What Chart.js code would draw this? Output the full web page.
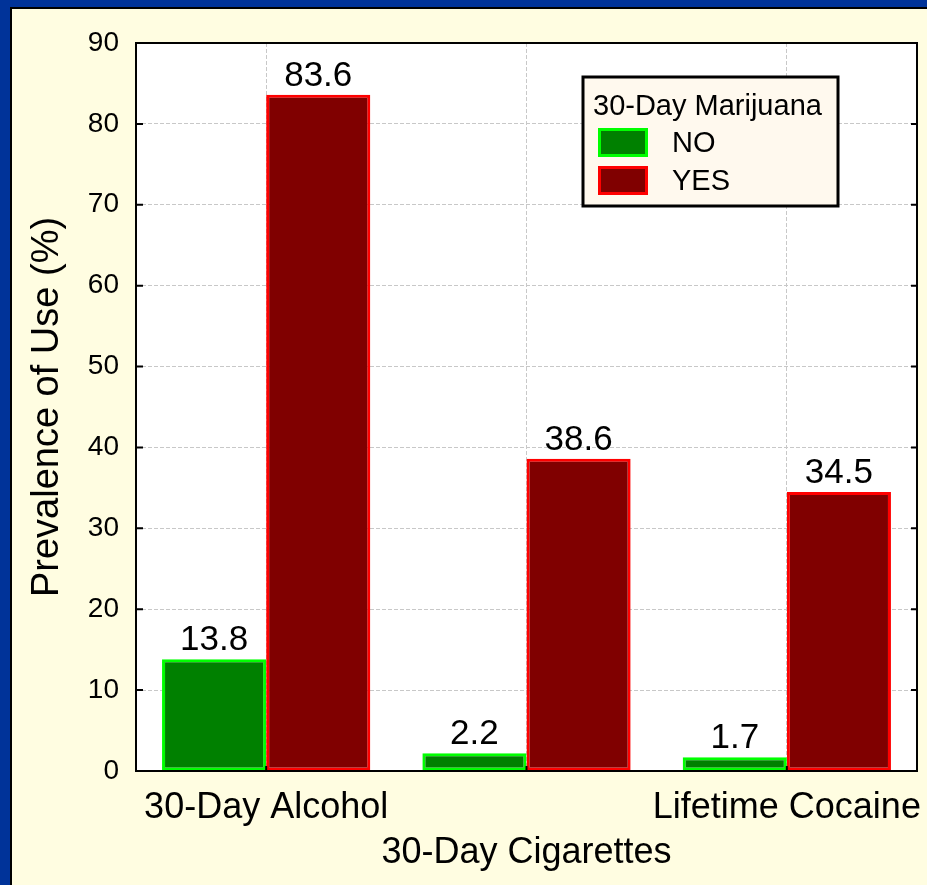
<!DOCTYPE html>
<html>
<head>
<meta charset="utf-8">
<title>Prevalence of Use</title>
<script src="https://cdn.jsdelivr.net/npm/chart.js@4.4.1/dist/chart.umd.min.js"></script>
<style>
    html, body { margin: 0; padding: 0; overflow: hidden; background: #FFFDE1; }
    .blue { position: absolute; background: #003399; }
    #blueLeft { left: 0; top: 0; width: 10px; height: 100%; }
    #blueTop { left: 0; top: 0; width: 100%; height: 7px; }
    #frame {
        position: absolute; left: 10px; top: 7px; right: 0; bottom: 0;
        border-left: 2px solid #000; border-top: 2px solid #000;
        background: #FFFDE1;
    }
    #chart { position: absolute; left: 0; top: 0; }
</style>
</head>
<body>
<div class="blue" id="blueLeft"></div>
<div class="blue" id="blueTop"></div>
<div id="frame">
    <canvas id="chart" width="915" height="876"></canvas>
</div>
<script>
// 1. Dữ liệu
const categories = ['30-Day Alcohol', '30-Day Cigarettes', 'Lifetime Cocaine'];
const seriesNames = ['NO', 'YES'];
const valuesNo = [13.8, 2.2, 1.7];
const valuesYes = [83.6, 38.6, 34.5];
const yTicks = [0, 10, 20, 30, 40, 50, 60, 70, 80, 90];
const legendTitle = '30-Day Marijuana';
const yTitle = 'Prevalence of Use (%)';

const FONT = "'Liberation Sans', Arial, sans-serif";

// 2. Plugin: nền trắng vùng vẽ
const plotBg = {
    id: 'plotBg',
    beforeDraw(chart) {
        const { ctx, chartArea: a } = chart;
        ctx.save();
        ctx.fillStyle = '#ffffff';
        ctx.fillRect(a.left, a.top, a.width, a.height);
        ctx.restore();
    }
};

// 3. Plugin: số trên đầu cột, khung, vạch chia hướng vào trong, chú thích
const extras = {
    id: 'extras',
    afterDatasetsDraw(chart) {
        const ctx = chart.ctx;
        ctx.save();
        ctx.font = '35px ' + FONT;
        ctx.fillStyle = '#000';
        ctx.textAlign = 'center';
        ctx.textBaseline = 'alphabetic';
        chart.data.datasets.forEach((ds, i) => {
            chart.getDatasetMeta(i).data.forEach((bar, j) => {
                ctx.fillText(ds.data[j].toFixed(1), bar.x, bar.y - 9);
            });
        });
        ctx.restore();
    },
    afterDraw(chart) {
        const { ctx, chartArea: a, scales } = chart;
        ctx.save();

        // khung vùng vẽ
        ctx.strokeStyle = '#000';
        ctx.lineWidth = 2;
        ctx.strokeRect(a.left, a.top, a.width, a.height);

        // vạch chia trục y (trái + phải)
        yTicks.forEach(v => {
            const y = scales.y.getPixelForValue(v);
            ctx.beginPath();
            ctx.moveTo(a.left, y); ctx.lineTo(a.left + 7, y);
            ctx.moveTo(a.right, y); ctx.lineTo(a.right - 6, y);
            ctx.stroke();
        });
        // vạch chia trục x
        categories.forEach((c, i) => {
            const x = scales.x.getPixelForTick(i);
            ctx.beginPath();
            ctx.moveTo(x, a.bottom); ctx.lineTo(x, a.bottom - 5);
            ctx.stroke();
        });

        // chú thích
        const w = 255, h = 129;
        const lx = a.right - 79 - w, ly = a.top + 34;
        ctx.fillStyle = '#FFF9EE';
        ctx.fillRect(lx, ly, w, h);
        ctx.lineWidth = 3;
        ctx.strokeStyle = '#000';
        ctx.strokeRect(lx, ly, w, h);

        ctx.fillStyle = '#000';
        ctx.font = '29px ' + FONT;
        ctx.textAlign = 'left';
        ctx.textBaseline = 'alphabetic';
        ctx.fillText(legendTitle, lx + 10, ly + 38);

        chart.data.datasets.forEach((ds, i) => {
            const by = ly + 51 + i * 38;
            ctx.fillStyle = ds.backgroundColor;
            ctx.fillRect(lx + 15, by, 50, 29);
            ctx.lineWidth = 3;
            ctx.strokeStyle = ds.borderColor;
            ctx.strokeRect(lx + 16.5, by + 1.5, 47, 26);
            ctx.fillStyle = '#000';
            ctx.fillText(ds.label, lx + 89, by + 24);
        });
        ctx.restore();
    }
};

// 4. Vẽ biểu đồ
const gridStyle = { color: '#C8C8C8', lineWidth: 1, drawTicks: false };

new Chart(document.getElementById('chart'), {
    type: 'bar',
    data: {
        labels: categories,
        datasets: [
            {
                label: seriesNames[0],
                data: valuesNo,
                backgroundColor: '#008000',
                borderColor: '#00FF00',
                borderWidth: 3,
                borderSkipped: false
            },
            {
                label: seriesNames[1],
                data: valuesYes,
                backgroundColor: '#800000',
                borderColor: '#FF0000',
                borderWidth: 3,
                borderSkipped: false
            }
        ]
    },
    options: {
        responsive: false,
        animation: false,
        devicePixelRatio: 1,
        layout: { padding: { left: 0, right: 10, top: 34, bottom: 0 } },
        datasets: { bar: { categoryPercentage: 0.8, barPercentage: 1.0 } },
        plugins: { legend: { display: false }, tooltip: { enabled: false } },
        scales: {
            x: {
                offset: true,
                grid: { ...gridStyle, offset: false },
                border: { display: false, dash: [4, 2] },
                ticks: {
                    color: '#000',
                    font: { family: FONT, size: 36, lineHeight: 1.25 },
                    padding: 15,
                    maxRotation: 0,
                    autoSkip: false,
                    callback: (v, i) => i % 2 === 1 ? ['', categories[i]] : categories[i]
                },
                afterFit: s => { s.height = 114; s.paddingLeft = 0; s.paddingRight = 0; }
            },
            y: {
                min: 0,
                max: 90,
                grid: gridStyle,
                border: { display: false, dash: [4, 2] },
                ticks: {
                    stepSize: 10,
                    color: '#000',
                    font: { family: FONT, size: 28 },
                    padding: 17
                },
                title: {
                    display: true,
                    text: yTitle,
                    color: '#000',
                    font: { family: FONT, size: 38, lineHeight: 1.2 },
                    padding: { top: 13, bottom: 0 }
                },
                afterFit: s => { s.width = 124; }
            }
        }
    },
    plugins: [plotBg, extras]
});
</script>
</body>
</html>
